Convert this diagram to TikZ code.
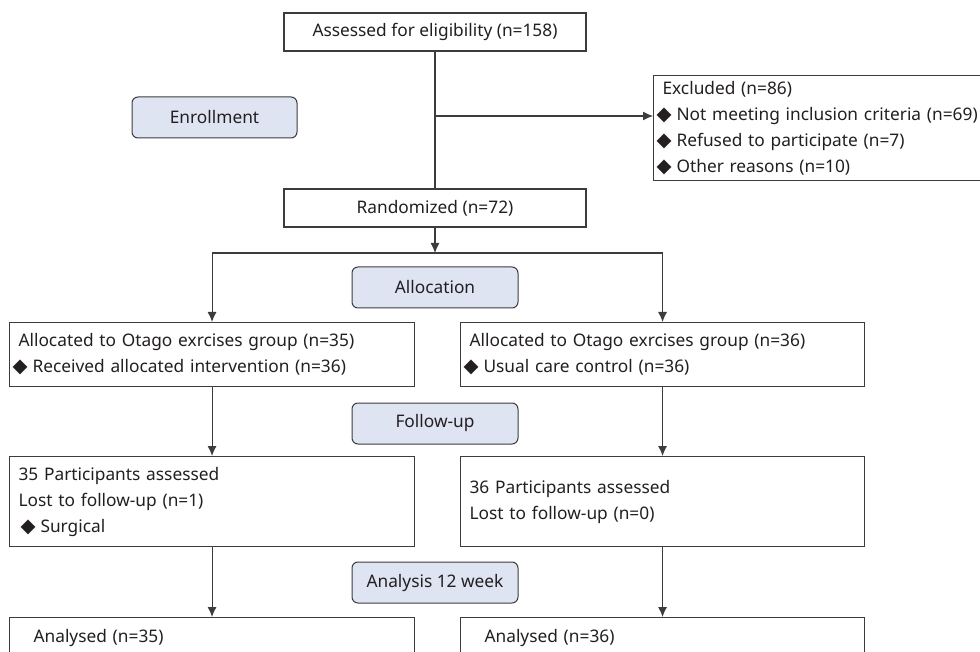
\documentclass[tikz,border=0pt]{standalone}
\usepackage{fontspec}
\setmainfont{Noto Sans}
\newfontfamily\symfont{DejaVu Sans}
\usetikzlibrary{shapes,arrows.meta,positioning,calc}

\definecolor{linegray}{RGB}{60,60,60}
\definecolor{textgray}{RGB}{35,31,32}
\definecolor{stagefill}{RGB}{222,228,242}

% diamond bullet, pulled out to the box edge
\newcommand{\itm}{\hspace*{-6pt}{\symfont\fontsize{19.5}{26}\selectfont ◆}\hspace{5pt}}

\begin{document}
\begin{tikzpicture}[
    x=1pt, y=-1pt,
    font=\fontsize{17.3}{26}\selectfont,
    text=textgray,
    box/.style={
        rectangle,
        draw=linegray,
        line width=1.1pt,
        fill=white,
        inner ysep=0pt
    },
    centerbox/.style={
        box,
        minimum width=302pt,
        minimum height=38pt,
        align=center
    },
    listbox/.style={
        box,
        anchor=north west,
        align=left,
        inner xsep=9pt
    },
    stage/.style={
        rectangle,
        draw=linegray,
        line width=1pt,
        rounded corners=6pt,
        fill=stagefill,
        minimum width=166pt,
        minimum height=41pt,
        align=center
    },
    line/.style={draw=linegray, line width=1.1pt, -{Latex[length=10pt,width=9pt]}},
    plain line/.style={draw=linegray, line width=1.1pt}
]
\useasboundingbox (0,0) rectangle (980,652);
\clip (0,0) rectangle (980,652);

% Enrollment
\node [centerbox] (assess) at (435,32) {Assessed for eligibility (n=158)};
\node [centerbox] (rand) at (435,208) {Randomized (n=72)};
\node [stage, minimum width=165pt] (enroll) at (214.5,117.5) {Enrollment};

\node [listbox, text width=322pt, minimum height=105pt] (excl) at (653,75) {Excluded (n=86)\\
    \itm Not meeting inclusion criteria (n=69)\\
    \itm Refused to participate (n=7)\\
    \itm Other reasons (n=10)};

% Allocation
\node [stage] (alloc) at (435,287.5) {Allocation};
\node [listbox, text width=387pt, minimum height=64pt] (allocL) at (9,322) {Allocated to Otago exrcises group (n=35)\\
    \itm Received allocated intervention (n=36)};
\node [listbox, text width=386pt, minimum height=64pt] (allocR) at (460,322) {Allocated to Otago exrcises group (n=36)\\
    \itm Usual care control (n=36)};

% Follow-up
\node [stage] (follow) at (435,423.5) {Follow-up};
\node [listbox, text width=387pt, minimum height=90pt] (followL) at (9,456) {35 Participants assessed\\
    Lost to follow-up (n=1)\\
    \hspace*{8pt}\itm Surgical};
\node [listbox, text width=386pt, minimum height=90pt] (followR) at (460,456) {36 Participants assessed\\
    Lost to follow-up (n=0)};

% Analysis
\node [stage] (analysis) at (435,582.5) {Analysis 12 week};
\node [listbox, text width=387pt, minimum height=40pt] (anaL) at (9,617) {\hspace*{15pt}Analysed (n=35)};
\node [listbox, text width=386pt, minimum height=40pt] (anaR) at (460,617) {\hspace*{15pt}Analysed (n=36)};

% Connections
\coordinate (split) at (435,116);
\coordinate (fork) at (435,253);
\draw [plain line] (assess) -- (rand);
\draw [line] (split) -- (split -| excl.west);
\draw [line] (rand) -- (fork);
\draw [line] (fork) -| (allocL.north);
\draw [line] (fork) -| (allocR.north);
\draw [line] (allocL) -- (followL);
\draw [line] (allocR) -- (followR);
\draw [line] (followL) -- (anaL);
\draw [line] (followR) -- (anaR);

\end{tikzpicture}
\end{document}
